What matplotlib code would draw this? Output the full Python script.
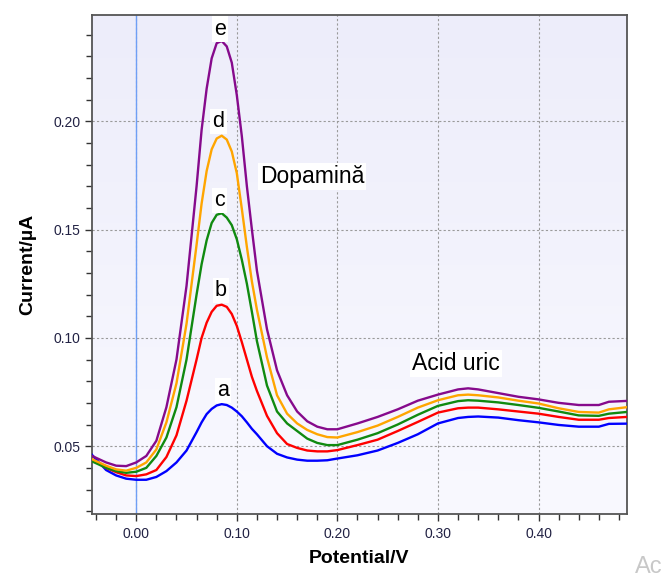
import numpy as np
import matplotlib
matplotlib.use("Agg")
import matplotlib.pyplot as plt
from matplotlib.colors import LinearSegmentedColormap
from matplotlib.ticker import MultipleLocator, FormatStrFormatter

plt.rcParams['font.family'] = ['Liberation Sans', 'DejaVu Sans']

potential = [-0.044, -0.03, -0.02, -0.01, 0.00, 0.01, 0.02, 0.03, 0.04, 0.05,
             0.06, 0.065, 0.07, 0.075, 0.08, 0.085, 0.09, 0.095, 0.10, 0.105,
             0.11, 0.115, 0.12, 0.13, 0.14, 0.15, 0.16, 0.17, 0.18, 0.19,
             0.20, 0.22, 0.24, 0.26, 0.28, 0.30, 0.32, 0.33, 0.34, 0.36,
             0.38, 0.40, 0.42, 0.44, 0.46, 0.47, 0.488]

current_a = [0.046, 0.039, 0.0365, 0.035, 0.0345, 0.0345, 0.0358, 0.0385, 0.0425, 0.048,
             0.0565, 0.061, 0.0648, 0.0672, 0.0688, 0.0694, 0.069, 0.0678, 0.066, 0.0638,
             0.061, 0.058, 0.0555, 0.050, 0.0465, 0.0448, 0.0438, 0.0433, 0.0433, 0.0435,
             0.0443, 0.0458, 0.048, 0.0515, 0.0555, 0.0605, 0.063, 0.0635, 0.0637, 0.0632,
             0.062, 0.061, 0.0598, 0.059, 0.059, 0.0603, 0.0604]

current_b = [0.044, 0.040, 0.038, 0.0365, 0.0362, 0.037, 0.039, 0.045, 0.055, 0.071,
             0.090, 0.100, 0.107, 0.112, 0.1148, 0.1153, 0.1143, 0.111, 0.1055, 0.098,
             0.090, 0.082, 0.0755, 0.064, 0.056, 0.051, 0.0492, 0.048, 0.0476, 0.0476,
             0.0482, 0.0505, 0.053, 0.057, 0.0612, 0.0655, 0.0675, 0.0678, 0.0678, 0.067,
             0.066, 0.065, 0.0635, 0.0622, 0.0622, 0.063, 0.0635]

current_c = [0.043, 0.040, 0.0385, 0.0377, 0.0382, 0.040, 0.0455, 0.054, 0.068, 0.090,
             0.120, 0.134, 0.145, 0.153, 0.1568, 0.1575, 0.1555, 0.152, 0.1455, 0.136,
             0.125, 0.112, 0.0985, 0.078, 0.066, 0.0605, 0.057, 0.0535, 0.0515, 0.0505,
             0.0505, 0.053, 0.056, 0.060, 0.0645, 0.0686, 0.0708, 0.0712, 0.071, 0.0702,
             0.069, 0.0677, 0.066, 0.0642, 0.064, 0.065, 0.0658]

current_d = [0.044, 0.041, 0.0393, 0.0387, 0.040, 0.0425, 0.0485, 0.061, 0.079, 0.1065,
             0.143, 0.162, 0.177, 0.187, 0.192, 0.1933, 0.1915, 0.186, 0.176, 0.1595,
             0.142, 0.126, 0.113, 0.091, 0.0735, 0.065, 0.0605, 0.0575, 0.0555, 0.0542,
             0.054, 0.0565, 0.0595, 0.0635, 0.0678, 0.0712, 0.0735, 0.0738, 0.0735, 0.0725,
             0.071, 0.0697, 0.0675, 0.0658, 0.0655, 0.067, 0.068]

current_e = [0.0455, 0.0425, 0.041, 0.0408, 0.0425, 0.0455, 0.0525, 0.068, 0.090, 0.124,
             0.170, 0.196, 0.215, 0.229, 0.236, 0.237, 0.2345, 0.227, 0.212, 0.193,
             0.170, 0.150, 0.131, 0.104, 0.085, 0.0735, 0.066, 0.0615, 0.059, 0.0578,
             0.0578, 0.0605, 0.0635, 0.067, 0.071, 0.0738, 0.0762, 0.0767, 0.0762, 0.0745,
             0.0728, 0.0716, 0.070, 0.069, 0.069, 0.0705, 0.0709]

series = [current_a, current_b, current_c, current_d, current_e]
labels = ['a', 'b', 'c', 'd', 'e']
colors = ['#0000ff', '#ff0000', '#108a10', '#ffa500', '#860a8c']

fig = plt.figure(figsize=(6.62, 5.76), dpi=100)
ax = fig.add_axes([92/662, 62/576, 535/662, 499/576])

cmap = LinearSegmentedColormap.from_list('bg', ['#f9f9ff', '#ededfa'])
ax.imshow(np.linspace(0, 1, 256).reshape(-1, 1), extent=[0, 1, 0, 1],
          transform=ax.transAxes, cmap=cmap, aspect='auto', origin='lower', zorder=0)

for y, c in zip(series, colors):
    ax.plot(potential, y, color=c, lw=1.7, zorder=3)

ax.axvline(0.0, color='#6f9ff5', lw=1.0, zorder=2)

ax.set_xlim(-0.044, 0.488)
ax.set_ylim(0.0187, 0.249)

ax.xaxis.set_major_locator(MultipleLocator(0.1))
ax.xaxis.set_minor_locator(MultipleLocator(0.02))
ax.yaxis.set_major_locator(MultipleLocator(0.05))
ax.yaxis.set_minor_locator(MultipleLocator(0.01))
ax.xaxis.set_major_formatter(FormatStrFormatter('%.2f'))
ax.yaxis.set_major_formatter(FormatStrFormatter('%.2f'))

ax.grid(True, which='major', color='#9a9a9a', linestyle=(0, (2, 2)), lw=0.8, zorder=1)
ax.set_axisbelow(True)

ax.tick_params(which='both', direction='out', top=False, right=False,
               colors='#333333', labelcolor='#222244', labelsize=10)
ax.tick_params(which='major', length=5, width=1)
ax.tick_params(which='minor', length=4, width=1)
ax.tick_params(axis='x', pad=4)
for s in ax.spines.values():
    s.set_color('#555555')
    s.set_linewidth(1.3)

ax.set_xlabel('Potential/V', fontsize=14, fontweight='bold', labelpad=7)
ax.set_ylabel('Current/µA', fontsize=14, fontweight='bold', labelpad=12)

bbox = dict(facecolor='white', edgecolor='none', pad=1.5)
label_pos = [(0.086, 0.0758), (0.084, 0.1219), (0.0827, 0.1634), (0.0818, 0.2), (0.0834, 0.2425)]
for lab, (x, y) in zip(labels, label_pos):
    ax.text(x, y, lab, fontsize=15.5, ha='center', va='center', bbox=bbox, zorder=5)

ax.text(0.123, 0.1744, 'Dopamină', fontsize=16.5, ha='left', va='center', bbox=bbox, zorder=5)
ax.text(0.274, 0.0882, 'Acid uric', fontsize=16.5, ha='left', va='center', bbox=bbox, zorder=5)

fig.text(635/662, 1 - 567/576, 'Ac', fontsize=17, color='#c8c8c8', ha='left', va='center')

fig.savefig('out.png', dpi=100)
